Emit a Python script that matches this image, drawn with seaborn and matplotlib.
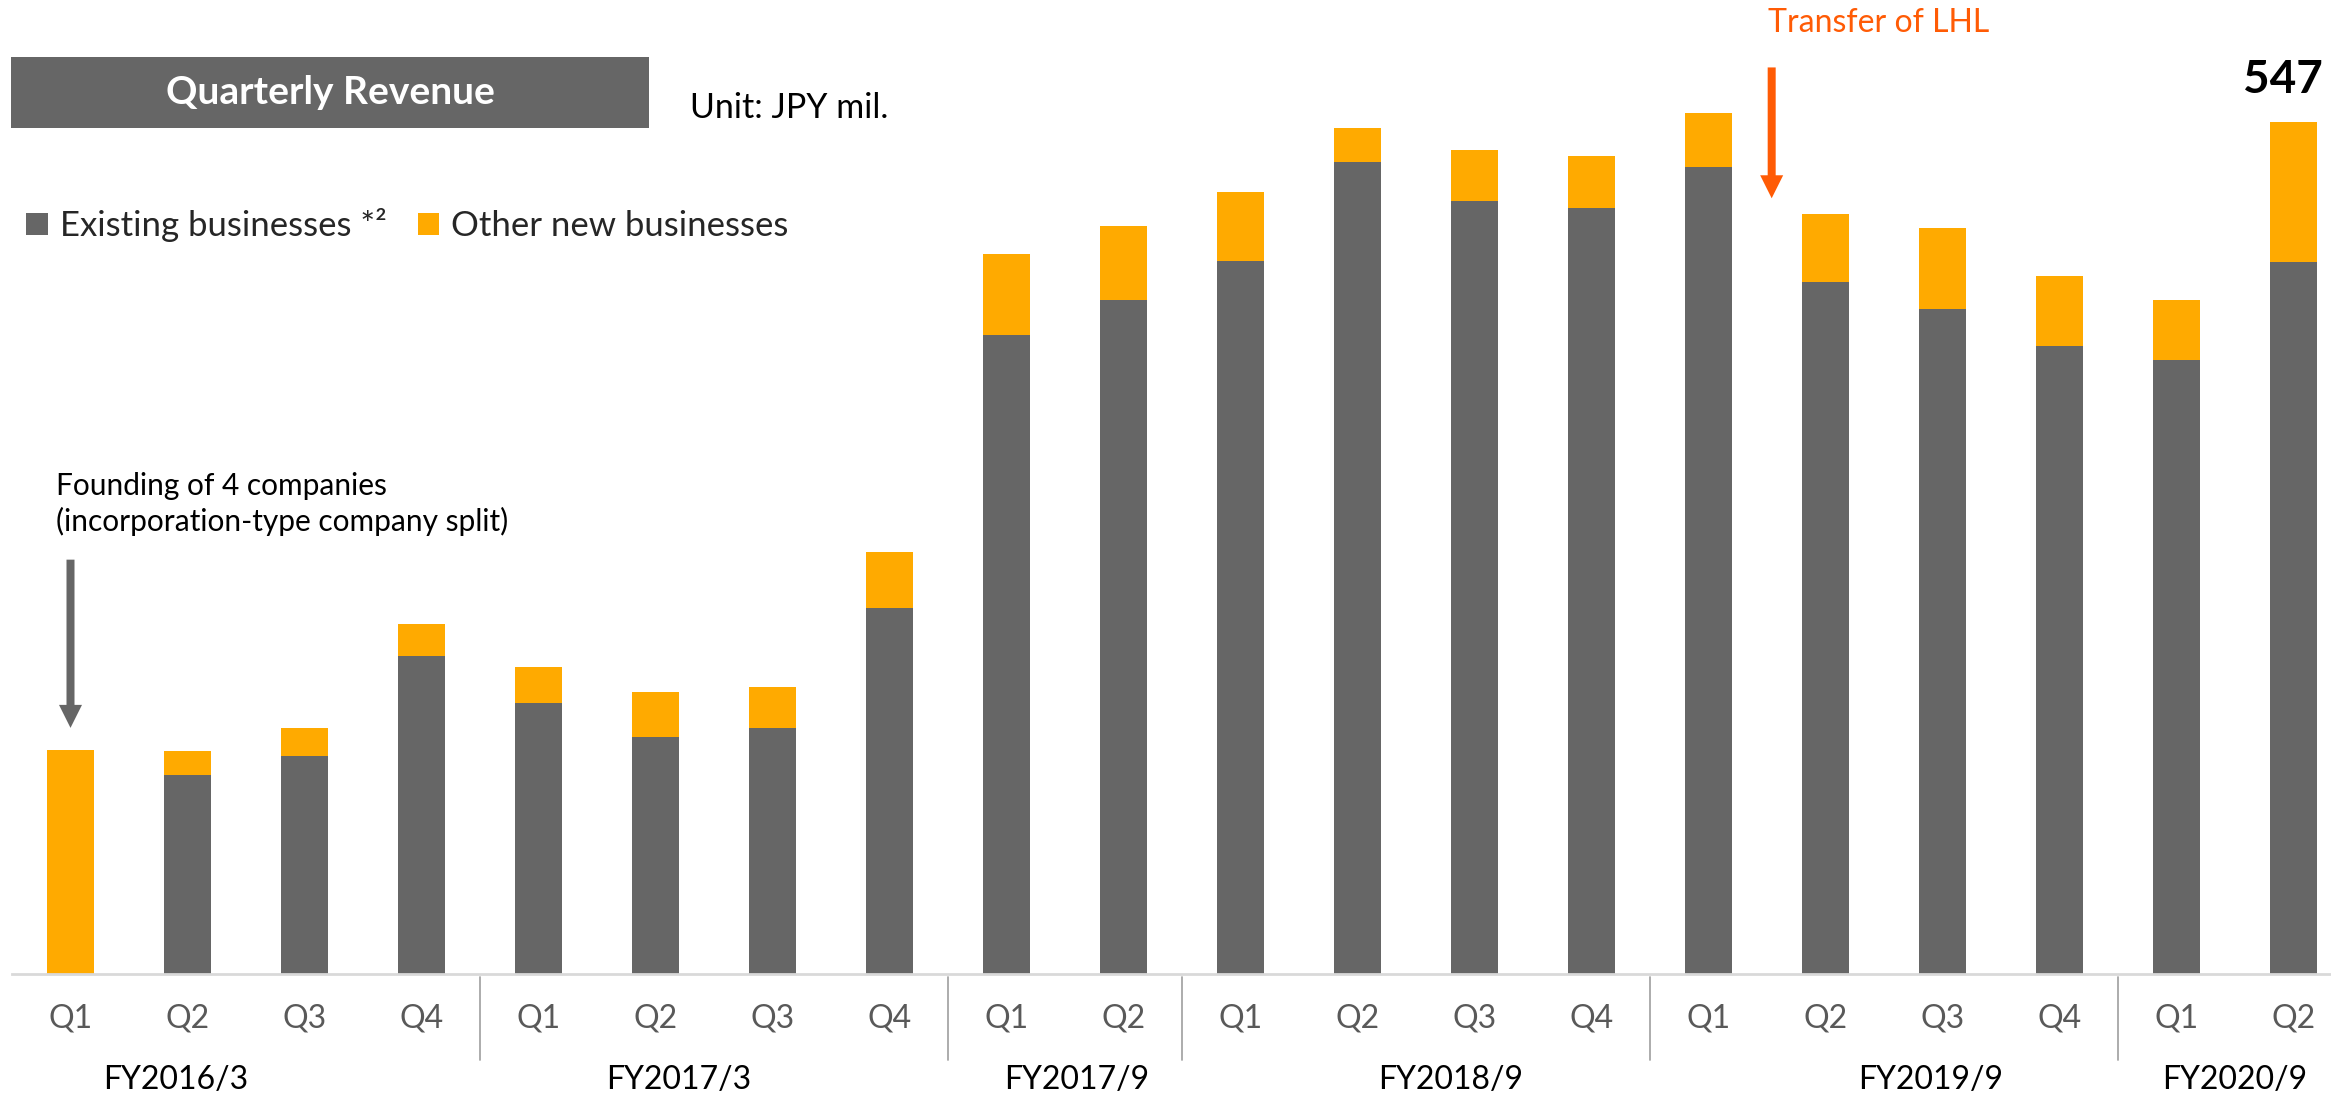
import numpy as np
import pandas as pd
import seaborn as sns
import matplotlib.pyplot as plt
from matplotlib.patches import Patch, Rectangle
from matplotlib.transforms import blended_transform_factory

# -----------------------------
# Data (Unit: JPY mil.)
# -----------------------------
fiscal_years = ["FY2016/3", "FY2017/3", "FY2017/9", "FY2018/9", "FY2019/9", "FY2020/9"]
quarters_per_year = [4, 4, 2, 4, 4, 2]
quarter_labels = ["Q1", "Q2", "Q3", "Q4",
                  "Q1", "Q2", "Q3", "Q4",
                  "Q1", "Q2",
                  "Q1", "Q2", "Q3", "Q4",
                  "Q1", "Q2", "Q3", "Q4",
                  "Q1", "Q2"]
existing = [0, 128, 140, 204, 174, 152, 158, 235, 410, 433,
            458, 521, 496, 492, 518, 444, 427, 403, 394, 457]
other_new = [144, 15, 18, 21, 23, 29, 26, 36, 52, 47,
             44, 22, 33, 33, 35, 44, 52, 45, 39, 90]

df = pd.DataFrame({
    "fy": np.repeat(fiscal_years, quarters_per_year),
    "quarter": quarter_labels,
    "existing": existing,
    "other": other_new,
})
df["period"] = df["fy"] + " " + df["quarter"]
df["total"] = df["existing"] + df["other"]

GRAY = "#666666"
ORANGE = "#FFAA00"
RED_ORANGE = "#FF5B05"

# -----------------------------
# Figure
# -----------------------------
sns.set_style("white")
plt.rcParams["font.family"] = ["Lato", "DejaVu Sans"]

W, H = 2331, 1098
fig = plt.figure(figsize=(W / 100, H / 100), dpi=100)
ax = fig.add_axes([12 / W, 124 / H, 2340 / W, 934.6 / H])

# stacked bars: orange total behind, gray existing on top
sns.barplot(data=df, x="period", y="total", color=ORANGE, width=0.4,
            saturation=1, errorbar=None, linewidth=0, ax=ax)
sns.barplot(data=df, x="period", y="existing", color=GRAY, width=0.4,
            saturation=1, errorbar=None, linewidth=0, ax=ax)

ax.set_xlim(-0.5, 19.5)
ax.set_ylim(0, 600)
ax.set_xlabel("")
ax.set_ylabel("")
ax.set_yticks([])
ax.set_xticks(range(len(df)))
ax.set_xticklabels(df["quarter"], fontsize=23, color="#595959")
ax.tick_params(axis="x", length=0, pad=21)
for s in ["top", "right", "left"]:
    ax.spines[s].set_visible(False)
ax.spines["bottom"].set_color("#D9D9D9")
ax.spines["bottom"].set_linewidth(2)

# fiscal-year group labels and separators
blend = blended_transform_factory(ax.transData, fig.transFigure)
fy_label_x = [0.9, 5.2, 8.6, 11.8, 15.9, 18.5]
for name, xpos in zip(fiscal_years, fy_label_x):
    ax.text(xpos, 1 - 1080 / H, name, transform=blend, ha="center", va="center",
            fontsize=23, color="black")
bounds = np.cumsum(quarters_per_year)[:-1] - 0.5
for b in bounds:
    ax.plot([b, b], [1 - 977 / H, 1 - 1060 / H], transform=blend,
            color="#A6A6A6", lw=1.3, clip_on=False)

# latest value
ax.annotate(f"{df['total'].iloc[-1]}", xy=(len(df) - 1, df["total"].iloc[-1]),
            xytext=(-11, 29), textcoords="offset pixels", ha="center", va="baseline",
            fontsize=33, fontweight="bold", color="black")

# arrows
ax.annotate("", xy=(0, 158), xytext=(0, 266), annotation_clip=False,
            arrowprops=dict(arrowstyle="simple,head_width=0.69,head_length=0.69,tail_width=0.24",
                            mutation_scale=24, color=GRAY, lw=0, shrinkA=0, shrinkB=0))
ax.annotate("", xy=(14.54, 498), xytext=(14.54, 582), annotation_clip=False,
            arrowprops=dict(arrowstyle="simple,head_width=0.69,head_length=0.69,tail_width=0.24",
                            mutation_scale=24, color=RED_ORANGE, lw=0, shrinkA=0, shrinkB=0))

fig.text(1768 / W, 1 - 23 / H, "Transfer of LHL", ha="left", va="center",
         fontsize=23, color=RED_ORANGE)
fig.text(56 / W, 1 - 504 / H, "Founding of 4 companies\n(incorporation-type company split)",
         ha="left", va="center", fontsize=21.5, linespacing=1.3, color="black")

# title box
fig.add_artist(Rectangle((11 / W, 1 - 128 / H), 638 / W, 71 / H,
                         transform=fig.transFigure, color=GRAY, lw=0))
fig.text(330 / W, 1 - 92 / H, "Quarterly Revenue", ha="center", va="center",
         fontsize=28, fontweight="bold", color="white")
fig.text(690 / W, 1 - 108 / H, "Unit: JPY mil.", ha="left", va="center",
         fontsize=24.5, color="black")

# legend
handles = [Patch(color=GRAY, lw=0), Patch(color=ORANGE, lw=0)]
fig.legend(handles, ["Existing businesses *\u00b2", "Other new businesses"],
           loc="center left", bbox_to_anchor=(26 / W, 1 - 225 / H), ncol=2,
           frameon=False, borderpad=0, borderaxespad=0, fontsize=25,
           handlelength=0.62, handleheight=0.62, handletextpad=0.35,
           columnspacing=0.9)

fig.savefig("out.png", dpi=100)
